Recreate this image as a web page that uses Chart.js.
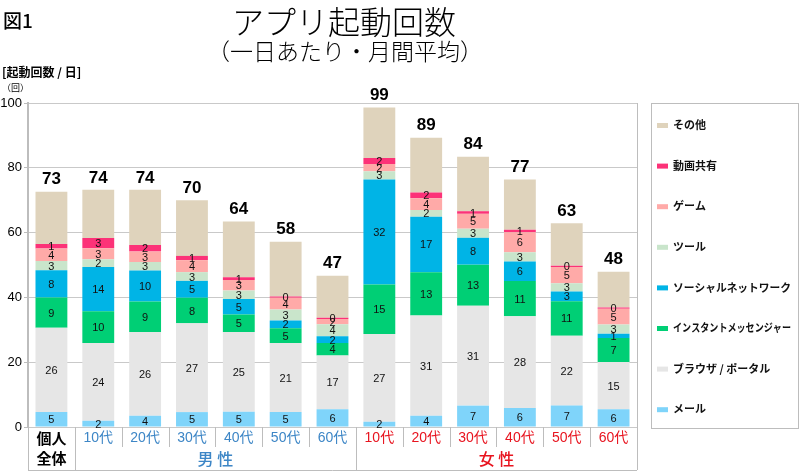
<!DOCTYPE html>
<html lang="ja">
<head>
<meta charset="utf-8">
<title>アプリ起動回数</title>
<script src="https://cdn.jsdelivr.net/npm/chart.js@4/dist/chart.umd.min.js"></script>
<style>
  html, body { margin: 0; padding: 0; background: #fff; }
  #wrap { position: relative; width: 800px; height: 472px; }
</style>
</head>
<body>
<div id="wrap"><canvas id="chart"></canvas></div>
<script>
// categories (個人全体, 男性 10-60代, 女性 10-60代)
const categories = ['個人全体', '10代', '20代', '30代', '40代', '50代', '60代',
                    '10代', '20代', '30代', '40代', '50代', '60代'];
const groups = ['all', 'm', 'm', 'm', 'm', 'm', 'm', 'f', 'f', 'f', 'f', 'f', 'f'];

// series values (launches per day), bottom to top
const mail    = [4.6, 1.9, 3.5, 4.6, 4.7, 4.6, 5.5, 1.6, 3.5, 6.6, 5.9, 6.6, 5.5];
const browser = [26.0, 24.0, 25.8, 27.4, 24.6, 21.3, 16.6, 27.1, 30.9, 30.8, 28.3, 21.6, 14.6];
const im      = [9.4, 9.8, 9.4, 7.9, 5.4, 4.6, 3.8, 15.3, 13.4, 12.7, 10.9, 10.6, 7.4];
const sns     = [8.4, 13.7, 9.6, 5.2, 4.8, 2.4, 2.1, 32.4, 17.1, 8.3, 6.0, 3.0, 1.3];
const tool    = [2.8, 2.4, 2.6, 2.7, 2.6, 3.4, 3.7, 2.5, 2.1, 2.8, 2.8, 2.6, 2.8];
const game    = [3.9, 3.4, 3.3, 3.7, 3.3, 3.6, 1.6, 2.3, 3.6, 4.6, 6.2, 5.0, 4.9];
const video   = [1.4, 3.1, 2.0, 1.3, 0.8, 0.4, 0.4, 1.8, 1.8, 0.8, 0.8, 0.4, 0.4];
const other   = [16.1, 14.9, 17.0, 17.2, 17.2, 16.9, 13.0, 15.6, 16.9, 16.8, 15.5, 13.1, 11.0];

// totals printed above the bars
const totals = [73, 74, 74, 70, 64, 58, 47, 99, 89, 84, 77, 63, 48];

const yTicks = [0, 20, 40, 60, 80, 100];

const JP = '"Noto Sans CJK JP", sans-serif';
const NUM = '"Liberation Sans", "Noto Sans CJK JP", sans-serif';
const BLUE = '#3d86c6';
const RED = '#e8141f';
const LINE = '#bdbdbd';

const series = [
  { label: 'メール', data: mail, color: '#7fd4fa' },
  { label: 'ブラウザ / ポータル', data: browser, color: '#e6e6e6' },
  { label: 'インスタントメッセンジャー', data: im, color: '#00cf75' },
  { label: 'ソーシャルネットワーク', data: sns, color: '#00b4e6' },
  { label: 'ツール', data: tool, color: '#c9e5cb' },
  { label: 'ゲーム', data: game, color: '#ffaaa8' },
  { label: '動画共有', data: video, color: '#fc3278' },
  { label: 'その他', data: other, color: '#dfd3bc' }
];

// text, table and legend drawn around the chart area
const decorations = {
  id: 'decorations',
  afterDatasetsDraw(chart) {
    const { ctx } = chart;
    const n = chart.data.datasets.length;
    ctx.save();
    ctx.textAlign = 'center';
    ctx.textBaseline = 'middle';

    // value labels inside segments (all but その他)
    ctx.font = '11px ' + NUM;
    ctx.fillStyle = '#111';
    for (let d = 0; d < n - 1; d++) {
      const meta = chart.getDatasetMeta(d);
      meta.data.forEach((el, i) => {
        const v = chart.data.datasets[d].data[i];
        ctx.fillText(String(Math.round(v)), el.x, (el.y + el.base) / 2 + 1);
      });
    }

    // totals
    ctx.font = 'bold 17px ' + NUM;
    ctx.fillStyle = '#000';
    chart.getDatasetMeta(n - 1).data.forEach((el, i) => {
      ctx.fillText(String(totals[i]), el.x, el.y - 12);
    });
    ctx.restore();
  },
  afterDraw(chart) {
    const { ctx, chartArea: area } = chart;
    const x = chart.scales.x;
    ctx.save();

    // right border of plot
    ctx.strokeStyle = LINE;
    ctx.lineWidth = 1;
    ctx.beginPath();
    ctx.moveTo(area.right + 0.5, area.top);
    ctx.lineTo(area.right + 0.5, 470);
    ctx.stroke();

    // category table under the plot
    const tTop = area.bottom, tMid = 447, tBot = 470;
    ctx.beginPath();
    ctx.moveTo(area.left, tBot + 0.5);
    ctx.lineTo(area.right, tBot + 0.5);
    ctx.moveTo(area.left + 0.5, tTop);
    ctx.lineTo(area.left + 0.5, tBot);
    for (let i = 1; i < categories.length; i++) {
      const bx = Math.round((x.getPixelForValue(i - 1) + x.getPixelForValue(i)) / 2) + 0.5;
      const full = groups[i] !== groups[i - 1];
      ctx.moveTo(bx, tTop);
      ctx.lineTo(bx, full ? tBot : tMid);
    }
    ctx.stroke();

    ctx.textAlign = 'center';
    ctx.textBaseline = 'middle';
    categories.forEach((c, i) => {
      const cx = x.getPixelForValue(i);
      if (groups[i] === 'all') {
        ctx.font = 'bold 15px ' + JP;
        ctx.fillStyle = '#000';
        ctx.fillText('個人', cx, 438);
        ctx.fillText('全体', cx, 458);
      } else {
        ctx.font = '14px ' + NUM;
        ctx.fillStyle = groups[i] === 'm' ? BLUE : RED;
        ctx.fillText(c, cx, 438);
      }
    });
    const mid = (a, b) => (x.getPixelForValue(a) + x.getPixelForValue(b)) / 2;
    ctx.font = '500 16px ' + JP;
    ctx.fillStyle = BLUE;
    ctx.fillText('男 性', mid(1, 6), 459);
    ctx.fillStyle = RED;
    ctx.fillText('女 性', mid(7, 12), 459);

    // titles
    ctx.fillStyle = '#000';
    ctx.textAlign = 'left';
    ctx.font = '500 19px ' + JP;
    ctx.fillText('図1', 3, 21);
    ctx.textAlign = 'center';
    ctx.font = '300 32px ' + JP;
    ctx.fillText('アプリ起動回数', 344, 22);
    ctx.font = '300 23px ' + JP;
    ctx.fillText('（一日あたり・月間平均）', 345, 51);
    ctx.textAlign = 'left';
    ctx.font = 'bold 12px ' + JP;
    ctx.fillText('[起動回数 / 日]', 2, 72);
    ctx.font = '9px ' + JP;
    ctx.fillText('（回）', 2, 88);

    // legend box
    const lx = 651, ly = 103, lw = 147, lh = 325;
    ctx.strokeStyle = LINE;
    ctx.strokeRect(lx + 0.5, ly + 0.5, lw, lh);
    ctx.font = 'bold 11px ' + JP;
    const items = chart.data.datasets.slice().reverse();
    items.forEach((ds, k) => {
      const yy = 125 + k * 40.6;
      ctx.fillStyle = ds.backgroundColor;
      ctx.fillRect(657, yy - 2, 11, 5);
      ctx.fillStyle = '#111';
      ctx.fillText(ds.label, 673, yy, 118);
    });
    ctx.restore();
  }
};

new Chart(document.getElementById('chart'), {
  type: 'bar',
  data: {
    labels: categories,
    datasets: series.map(s => ({
      label: s.label,
      data: s.data,
      backgroundColor: s.color,
      borderWidth: 0,
      barPercentage: 0.68,
      categoryPercentage: 1
    }))
  },
  options: {
    responsive: true,
    maintainAspectRatio: false,
    animation: false,
    layout: { padding: { left: 0, top: 103, right: 163, bottom: 45 } },
    plugins: {
      legend: { display: false },
      title: { display: false },
      tooltip: { enabled: false }
    },
    scales: {
      x: {
        stacked: true,
        display: false
      },
      y: {
        stacked: true,
        min: 0,
        max: 100,
        afterFit(scale) { scale.width = 28; },
        afterBuildTicks(scale) { scale.ticks = yTicks.map(v => ({ value: v })); },
        ticks: {
          color: '#000',
          font: { family: NUM, size: 13 },
          padding: 2
        },
        grid: {
          color: '#c9c9c9',
          lineWidth: 1,
          tickLength: 4,
          tickColor: LINE
        },
        border: { color: LINE, width: 2 }
      }
    }
  },
  plugins: [decorations]
});
</script>
</body>
</html>
